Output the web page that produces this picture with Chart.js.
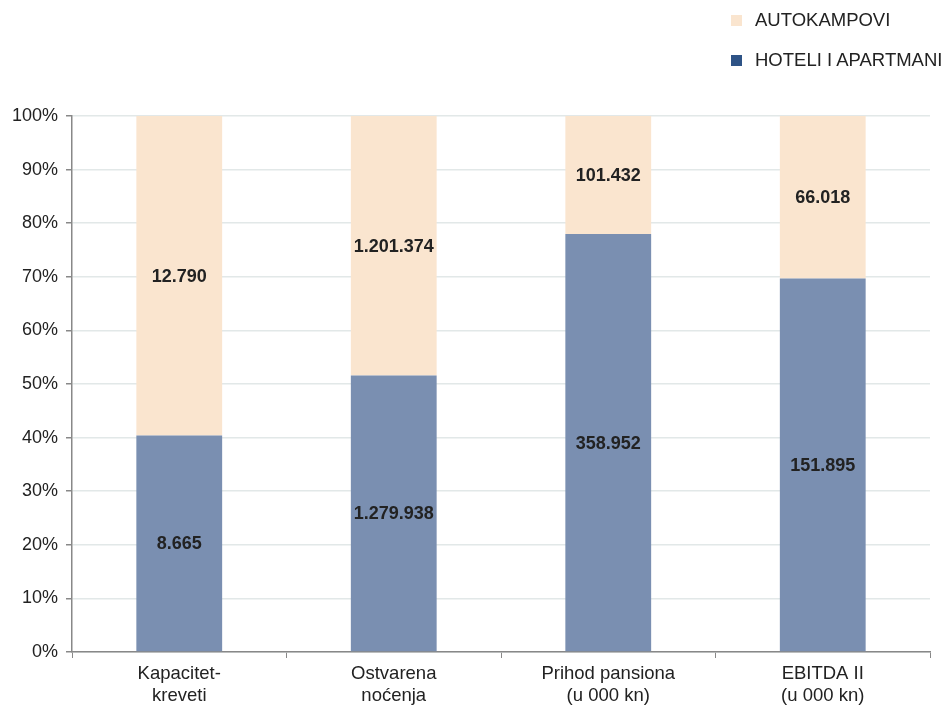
<!DOCTYPE html>
<html>
<head>
<meta charset="utf-8">
<script src="https://cdn.jsdelivr.net/npm/chart.js@4"></script>
<style>
  body { margin: 0; background: #fff; font-family: "Liberation Sans", Arial, sans-serif; }
  #wrap { position: relative; width: 945px; height: 706px; }
  #legend { position: absolute; left: 731px; top: 9px; font-size: 18.5px; color: #222; }
  .item { height: 22px; line-height: 22px; margin-bottom: 18px; white-space: nowrap; }
  .box { display: inline-block; width: 11px; height: 11px; margin-right: 13px; vertical-align: 0px; }
</style>
</head>
<body>
<div id="wrap">
  <canvas id="chart" width="945" height="706"></canvas>
  <div id="legend"></div>
</div>
<script>
var categories = [["Kapacitet-", "kreveti"], ["Ostvarena", "noćenja"], ["Prihod pansiona", "(u 000 kn)"], ["EBITDA II", "(u 000 kn)"]];
var hoteliApartmani = [8665, 1279938, 358952, 151895];
var autokampovi = [12790, 1201374, 101432, 66018];
var yTicks = [0, 10, 20, 30, 40, 50, 60, 70, 80, 90, 100];

var hoteliPct = [], autoPct = [];
for (var i = 0; i < categories.length; i++) {
  var total = hoteliApartmani[i] + autokampovi[i];
  hoteliPct.push(hoteliApartmani[i] / total * 100);
  autoPct.push(autokampovi[i] / total * 100);
}

function formatNum(n) {
  return n.toString().replace(/\B(?=(\d{3})+(?!\d))/g, ".");
}

// legend drawn as html, order like in the picture
var legendItems = [
  { label: "AUTOKAMPOVI", color: "#fae5cf" },
  { label: "HOTELI I APARTMANI", color: "#2e5386" }
];
var html = "";
for (var j = 0; j < legendItems.length; j++) {
  html += "<div class='item'><span class='box' style='background:" + legendItems[j].color + "'></span>" + legendItems[j].label + "</div>";
}
document.getElementById("legend").innerHTML = html;

var valueLabels = {
  id: "valueLabels",
  afterDatasetsDraw: function (chart) {
    var ctx = chart.ctx;
    ctx.save();
    ctx.font = "bold 18px 'Liberation Sans', Arial, sans-serif";
    ctx.fillStyle = "#222";
    ctx.textAlign = "center";
    ctx.textBaseline = "middle";
    chart.data.datasets.forEach(function (ds, di) {
      var meta = chart.getDatasetMeta(di);
      meta.data.forEach(function (bar, k) {
        var mid = (bar.y + bar.base) / 2;
        ctx.fillText(formatNum(ds.raw[k]), bar.x, mid + 1);
      });
    });
    ctx.restore();
  }
};

new Chart(document.getElementById("chart"), {
  type: "bar",
  data: {
    labels: categories,
    datasets: [
      { label: "HOTELI I APARTMANI", data: hoteliPct, raw: hoteliApartmani, backgroundColor: "#7a8fb1", barPercentage: 0.4, categoryPercentage: 1 },
      { label: "AUTOKAMPOVI", data: autoPct, raw: autokampovi, backgroundColor: "#fae5cf", barPercentage: 0.4, categoryPercentage: 1 }
    ]
  },
  options: {
    responsive: false,
    animation: false,
    layout: { padding: { top: 116, right: 15, left: 0, bottom: 0 } },
    plugins: { legend: { display: false }, tooltip: { enabled: false } },
    scales: {
      x: {
        stacked: true,
        grid: { offset: true, drawOnChartArea: false, color: "#888", tickLength: 6 },
        border: { color: "#888", width: 1.5 },
        ticks: { color: "#222", font: { family: "'Liberation Sans', Arial, sans-serif", size: 18.5, lineHeight: 1.2 }, padding: 5, maxRotation: 0 },
        afterFit: function (scale) { scale.height = 54; }
      },
      y: {
        stacked: true,
        min: 0,
        max: 100,
        afterBuildTicks: function (scale) { scale.ticks = yTicks.map(function (v) { return { value: v }; }); },
        grid: { color: "#e2e8e8", tickColor: "#888", tickLength: 6, lineWidth: 1.5 },
        border: { color: "#888", width: 1.5 },
        ticks: {
          color: "#222",
          font: { family: "'Liberation Sans', Arial, sans-serif", size: 18 },
          padding: 8,
          callback: function (v) { return v + "%"; }
        },
        afterFit: function (scale) { scale.width = 72; }
      }
    }
  },
  plugins: [valueLabels]
});
</script>
</body>
</html>
